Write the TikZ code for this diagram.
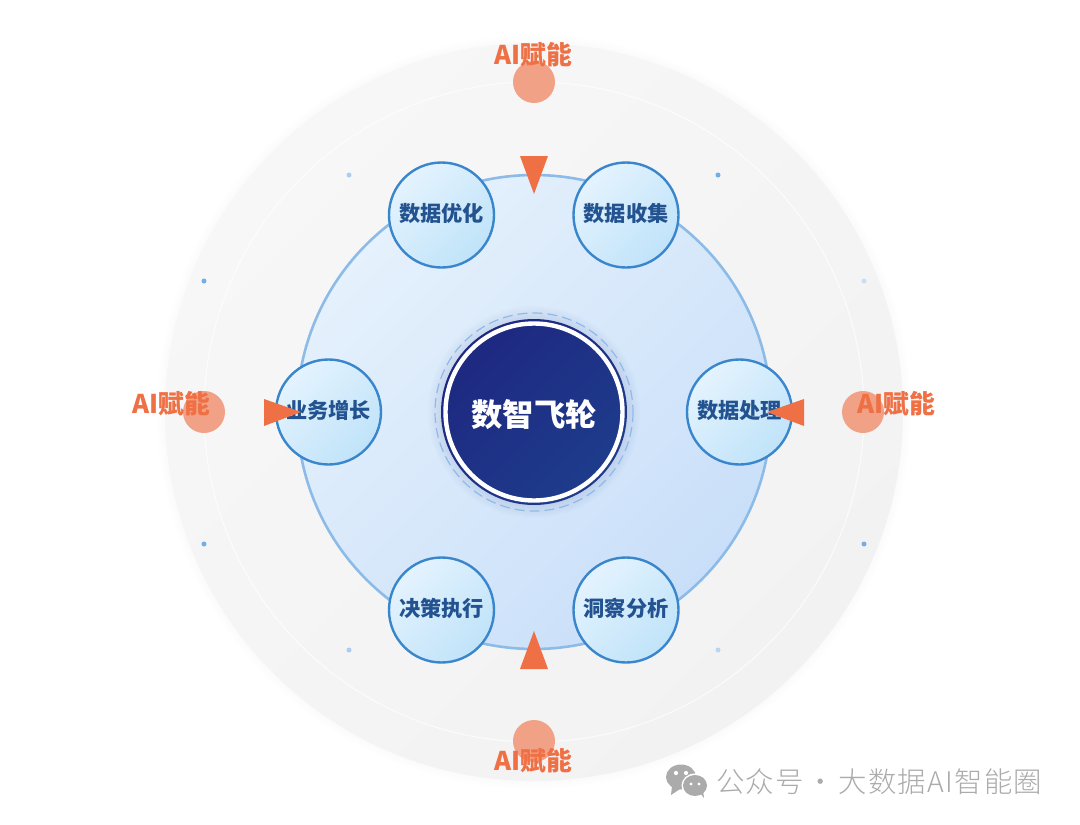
\documentclass[tikz,border=0pt]{standalone}
\usepackage{fontspec}
\setmainfont{Noto Sans CJK SC}
\newfontfamily\cjkb{Noto Sans CJK SC}
\newfontfamily\wm[LetterSpace=4.5]{Noto Sans CJK SC Light}
\definecolor{orangeA}{HTML}{EF7044}
\definecolor{peach}{HTML}{F1A185}
\definecolor{stepblue}{HTML}{3A86CC}
\definecolor{steptext}{HTML}{22528F}
\definecolor{ringblue}{HTML}{8DBBE8}
\definecolor{dotblue}{HTML}{72AEE8}
\definecolor{wmgrey}{HTML}{ABABAB}
\definecolor{outerA}{HTML}{F7F7F7}
\definecolor{outerB}{HTML}{F2F2F2}
\definecolor{mainA}{HTML}{E5F1FC}
\definecolor{mainB}{HTML}{C9DFF9}
\definecolor{hubA}{HTML}{1E2880}
\definecolor{hubB}{HTML}{1E3C8C}
\definecolor{stepA}{HTML}{E4F3FE}
\definecolor{stepB}{HTML}{C0E3F9}
\newcommand{\lifted}[1]{\raisebox{5pt}{#1}}
\tikzset{
  x=1pt,y=-1pt,
  stepnode/.style={circle,minimum size=105pt,inner sep=0pt,draw=stepblue,line width=2.4pt,
    shade,shading=axis,top color=stepA,bottom color=stepB,shading angle=45,
    text=steptext,font=\cjkb\fontsize{21.2}{23}\selectfont\bfseries},
  ailabel/.style={text=orangeA,inner sep=0pt,font=\cjkb\fontsize{25.8}{28}\selectfont\bfseries},
  aidot/.style={circle,minimum size=42pt,inner sep=0pt,fill=peach},
  tri/.style={fill=orangeA,draw=none},
  dotmark/.style={circle,fill=#1,minimum size=5pt,inner sep=0pt},
}
\begin{document}
\begin{tikzpicture}
\useasboundingbox (0,0) rectangle (1080,825);
\fill[white] (0,0) rectangle (1080,825);
% outer disc with soft edge
\foreach \r in {377,375,373,371}{\fill[black,opacity=0.004] (534,412) circle (\r);}
\shade[shading=axis,top color=outerA,bottom color=outerB,shading angle=45] (534,412) circle (369);
\draw[white,opacity=.75,line width=1pt] (534,412) circle (330);
% dots
\node[dotmark=dotblue!60] (d1) at (349,175) {};
\node[dotmark=dotblue] (d2) at (718,175) {};
\node[dotmark=dotblue] (d3) at (204,281) {};
\node[dotmark=dotblue!40] (d4) at (864,281) {};
\node[dotmark=dotblue] (d5) at (204,544) {};
\node[dotmark=dotblue] (d6) at (864,544) {};
\node[dotmark=dotblue!60] (d7) at (349,650) {};
\node[dotmark=dotblue!50] (d8) at (718,650) {};
% main disc
\shade[shading=axis,top color=mainA,bottom color=mainB,shading angle=45] (534,412) circle (237);
\draw[ringblue,line width=2.6pt] (534,412) circle (237);
% centre glow
\foreach \r in {106,104,...,94}{\fill[hubA,opacity=0.012] (534,412) circle (\r);}
\draw[ringblue,line width=1.2pt,dash pattern=on 10pt off 5pt] (534,412) circle (99);
% centre node
\node[circle,minimum size=186pt,inner sep=0pt,shade,shading=axis,top color=hubA,bottom color=hubB,shading angle=45] (hub) at (534,412) {};
\draw[white,line width=4.4pt] (hub.center) circle (88.5);
\node[text=white,inner sep=0pt,font=\cjkb\fontsize{31.3}{33}\selectfont\bfseries] (hubtext) at (534,414.5) {数智飞轮};
% step nodes
\node[stepnode] (s1) at (441.5,215) {\lifted{数据优化}};
\node[stepnode] (s2) at (626,215) {\lifted{数据收集}};
\node[stepnode] (s3) at (739.5,412) {\lifted{数据处理}};
\node[stepnode] (s4) at (626,610) {\lifted{洞察分析}};
\node[stepnode] (s5) at (441.5,610) {\lifted{决策执行}};
\node[stepnode] (s6) at (328.5,412) {\lifted{业务增长}};
% peach dots
\node[aidot] (a1) at (534,82) {};
\node[aidot] (a2) at (863,412) {};
\node[aidot] (a3) at (534,741) {};
\node[aidot] (a4) at (204,412) {};
% triangles
\fill[tri] (520,156) -- (548,156) -- (534,194) -- cycle;
\fill[tri] (804,399) -- (804,426) -- (767,412) -- cycle;
\fill[tri] (520,669) -- (548,669) -- (534,631) -- cycle;
\fill[tri] (264,399) -- (264,426) -- (301,412) -- cycle;
% labels
\node[ailabel] (l1) at (533,55) {AI赋能};
\node[ailabel] (l2) at (896,404) {AI赋能};
\node[ailabel] (l3) at (533,761) {AI赋能};
\node[ailabel] (l4) at (171,404) {AI赋能};
% watermark icon
\fill[wmgrey] (681,777) ellipse (15 and 12.5);
\fill[wmgrey] (672,786) -- (671,795) -- (680,789) -- cycle;
\fill[white] (695,785.5) ellipse (13.5 and 12);
\fill[wmgrey] (695,785.5) ellipse (12 and 10.5);
\fill[wmgrey] (700,793) -- (704,798) -- (703,790) -- cycle;
\fill[white] (676,773) circle (2.1) (686,773) circle (2.1) (691,784) circle (1.7) (699,784) circle (1.7);
\node[text=wmgrey,inner sep=0pt,anchor=west,font=\wm\fontsize{28.4}{30}\selectfont] (wmtext) at (716,782) {公众号\hspace{3pt}·\hspace{3pt}大数据AI智能圈};
\end{tikzpicture}
\end{document}
